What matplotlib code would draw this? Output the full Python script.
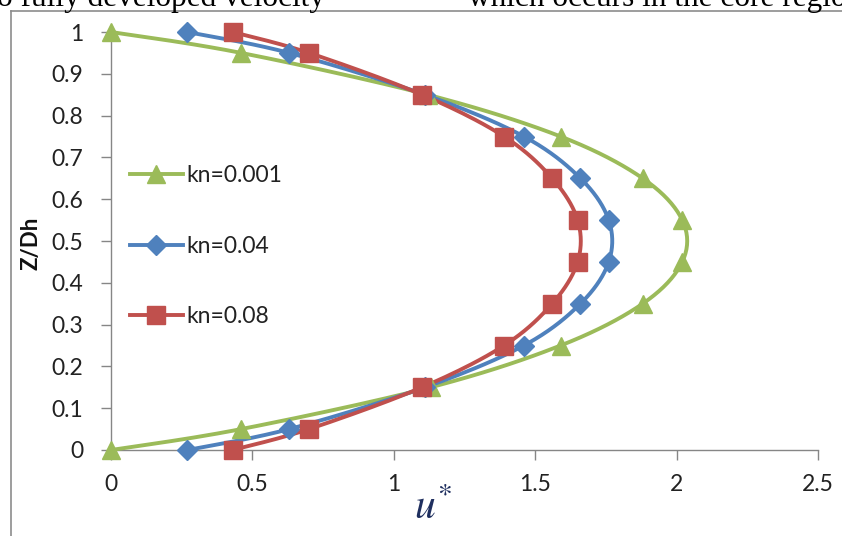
import numpy as np
import matplotlib
matplotlib.use("Agg")
import matplotlib.pyplot as plt
from matplotlib.lines import Line2D

plt.rcParams['font.family'] = ['Lato', 'DejaVu Sans']
plt.rcParams['mathtext.fontset'] = 'stix'

# Data
z = [1.0, 0.95, 0.85, 0.75, 0.65, 0.55, 0.45, 0.35, 0.25, 0.15, 0.05, 0.0]
u_kn0001 = [0.0, 0.46, 1.12, 1.59, 1.88, 2.02, 2.02, 1.88, 1.59, 1.13, 0.46, 0.0]
u_kn004 = [0.27, 0.63, 1.11, 1.46, 1.66, 1.76, 1.76, 1.66, 1.46, 1.11, 0.63, 0.27]
u_kn008 = [0.43, 0.70, 1.10, 1.39, 1.56, 1.65, 1.65, 1.56, 1.39, 1.10, 0.70, 0.43]
labels = ['kn=0.001', 'kn=0.04', 'kn=0.08']
xticks = [0, 0.5, 1, 1.5, 2, 2.5]
yticks = [0, 0.1, 0.2, 0.3, 0.4, 0.5, 0.6, 0.7, 0.8, 0.9, 1]


def smooth(xs, ys, n=20):
    """Catmull-Rom spline through the given points (Excel-like smoothed line)."""
    P = np.column_stack([xs, ys]).astype(float)
    P = np.vstack([P[0], P, P[-1]])
    out = []
    t = np.linspace(0, 1, n, endpoint=False)
    for i in range(1, len(P) - 2):
        p0, p1, p2, p3 = P[i - 1], P[i], P[i + 1], P[i + 2]
        tt = t[:, None]
        seg = 0.5 * ((2 * p1) + (-p0 + p2) * tt + (2 * p0 - 5 * p1 + 4 * p2 - p3) * tt ** 2
                     + (-p0 + 3 * p1 - 3 * p2 + p3) * tt ** 3)
        out.append(seg)
    out.append(P[-2][None, :])
    S = np.vstack(out)
    return S[:, 0], S[:, 1]


W, H = 842, 536
fig = plt.figure(figsize=(W / 100, H / 100), dpi=100)
ax = fig.add_axes([111 / W, 1 - 450 / H, (818 - 111) / W, (450 - 32) / H])

series = [
    (u_kn0001, '#9BBB59', '^', 13),
    (u_kn004, '#4F81BD', 'D', 10),
    (u_kn008, '#C0504D', 's', 13.5),
]
handles = []
for (u, c, m, ms), lab in zip(series, labels):
    sx, sy = smooth(u, z)
    ax.plot(sx, sy, color=c, lw=2.8, clip_on=False, solid_capstyle='round', zorder=3)
    ax.plot(u, z, ls='none', marker=m, ms=ms, color=c, mec=c, clip_on=False, zorder=4)
    handles.append(Line2D([], [], color=c, lw=2.8, marker=m, ms=ms, mec=c))

ax.set_xlim(0, 2.5)
ax.set_ylim(0, 1)
ax.set_xticks(xticks)
ax.set_xticklabels([f'{v:g}' for v in xticks])
ax.set_yticks(yticks)
ax.set_yticklabels([f'{v:g}' for v in yticks])
for s in ['top', 'right']:
    ax.spines[s].set_visible(False)
for s in ['left', 'bottom']:
    ax.spines[s].set_color('#868686')
    ax.spines[s].set_linewidth(1.0)
ax.tick_params(axis='both', colors='#868686', labelcolor='#222222', labelsize=16.5,
               length=7, width=1.0, direction='out')
ax.tick_params(axis='x', pad=10.5)
ax.tick_params(axis='y', pad=13)

leg = ax.legend(handles, labels, loc='upper left', bbox_to_anchor=(19 / 707, 1 - 133 / 418),
                frameon=False, fontsize=16.5, labelspacing=2.17, handlelength=2.3,
                handletextpad=0.17, borderpad=0, borderaxespad=0)
for t in leg.get_texts():
    t.set_color('#222222')

fig.text(31 / W, 1 - 243 / H, 'Z/Dh', rotation=90, ha='center', va='center',
         fontsize=16, fontweight='bold', color='#111111')
fig.text(414 / W, 1 - 519 / H, r'$u^{*}$', fontsize=30, color='#1F2F5F',
         ha='left', va='baseline')

# chart area border
fig.add_artist(Line2D([10.5 / W, 10.5 / W], [0, 1 - 10.5 / H], color='#8C8C8C', lw=1.2,
                      transform=fig.transFigure))
fig.add_artist(Line2D([10.5 / W, 1], [1 - 10.5 / H, 1 - 10.5 / H], color='#8C8C8C', lw=1.2,
                      transform=fig.transFigure))

# cut-off surrounding document text
fig.text(-3 / W, 1 - 6 / H, 'o fully developed velocity', family='Liberation Serif',
         fontsize=22.5, ha='left', va='baseline', color='black')
fig.text(468 / W, 1 - 6 / H, 'which occurs in the core region', family='Liberation Serif',
         fontsize=22.5, ha='left', va='baseline', color='black')

fig.savefig('out.png', dpi=100)
